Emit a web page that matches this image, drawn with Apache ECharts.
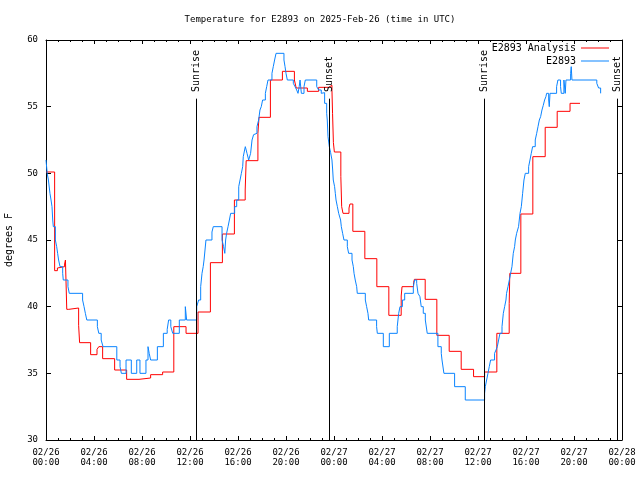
<!DOCTYPE html>
<html>
<head>
<meta charset="utf-8">
<script src="https://cdn.jsdelivr.net/npm/echarts@6/dist/echarts.min.js"></script>
<style>html,body{margin:0;padding:0;background:#fff}#c{width:640px;height:480px}</style>
</head>
<body>
<div id="c"></div>
<script>
// Hours since 02/26 00:00 UTC, and temperatures (deg F) — values hold until next point
const redHours = [0,0.72,0.95,1.05,1.55,1.62,1.73,1.9,2.72,2.8,3.72,4.25,4.4,4.72,5.72,6.72,7.75,8.72,9.72,10.65,11.67,12.67,13.7,14.7,15.7,16.6,16.68,17.66,17.75,18.7,19.7,20.7,20.85,21.78,22.72,23.55,23.83,23.88,23.95,24.03,24.57,24.64,24.75,25.25,25.33,25.57,26.57,27.57,28.57,29.6,29.67,30.63,30.7,31.6,32.57,33.6,34.6,35.63,36.55,37.57,38.6,38.65,39.57,40.57,41.6,42.6,43.67,44.5];
const redTemps = [50.1,42.7,42.9,43.0,43.2,43.5,39.8,39.9,38.6,37.3,36.4,36.8,37.0,36.1,35.25,34.55,34.65,34.9,35.1,38.5,38.0,39.6,43.3,45.45,48.0,48.75,50.95,53.0,54.2,57.0,57.65,57.0,56.4,56.15,56.45,56.6,56.2,54.5,52.3,51.6,49.75,47.5,47.0,47.4,47.7,45.65,43.6,41.5,39.35,40.8,41.5,41.8,42.05,40.55,37.85,36.65,35.3,34.75,35.1,38.0,40.25,42.5,46.95,51.25,53.45,54.65,55.25,55.25];

const blueHours = [0,0.1,0.2,0.33,0.42,0.5,0.56,0.61,0.78,0.89,0.97,1.05,1.17,1.39,1.44,1.83,1.94,3.05,3.17,3.28,3.4,4.28,4.4,4.6,4.75,5.9,6.17,6.28,6.67,7.11,7.56,7.83,8.33,8.5,8.6,8.72,9.28,9.78,10.1,10.22,10.4,10.56,11.11,11.61,11.72,12.56,12.72,12.89,13.0,13.1,13.17,13.25,13.33,13.83,13.94,14.67,14.8,14.9,14.97,15.05,15.17,15.28,15.39,15.72,15.89,16.06,16.17,16.28,16.39,16.44,16.55,16.61,16.75,16.89,17.05,17.17,17.3,17.44,17.58,17.72,17.83,17.94,18.05,18.28,18.39,18.5,18.83,18.94,19.05,19.17,19.83,19.92,20.0,20.11,20.61,20.75,20.89,21.0,21.1,21.17,21.28,21.5,21.61,22.56,22.72,22.94,23.1,23.22,23.39,23.44,23.5,23.61,23.72,23.83,23.89,23.94,24.05,24.11,24.17,24.28,24.39,24.55,24.61,24.72,24.83,25.11,25.22,25.5,25.61,25.67,25.77,25.89,25.94,26.61,26.72,26.83,26.89,27.55,27.61,28.11,28.61,29.27,29.39,29.5,29.7,29.89,30.61,30.72,30.89,31.0,31.16,31.27,31.44,31.61,31.77,32.66,32.94,33.0,33.16,34.05,34.94,36.55,36.61,36.72,36.83,36.94,37.05,37.38,37.5,37.61,37.72,37.83,38.0,38.11,38.22,38.33,38.38,38.5,38.61,38.72,38.83,38.94,39.05,39.11,39.22,39.38,39.5,39.61,39.72,39.83,39.94,40.22,40.33,40.44,40.55,40.77,40.89,41.0,41.11,41.22,41.33,41.44,41.55,41.66,41.72,41.89,41.94,42.0,42.55,42.66,42.88,42.94,43.16,43.27,43.33,43.72,43.77,43.83,45.9,46.05,46.22];
const blueTemps = [51,50,49.5,48.5,48,47.5,46.5,46,45,44.5,44,43.5,43,42.5,42,41.5,41,40.5,40,39.5,39,38.5,38,37.5,37,36,35.5,35,36,35,36,35,36,37,36.5,36,37,38,38.3,39,38.5,38,39,40,39,40,40.5,41.5,42.5,43,43.5,44.25,45,45.6,46,45,44.5,44,45,45.5,46,46.5,47,47.5,48,49,49.5,50,50.5,51.25,51.75,52,51.5,51,51.5,52.5,52.9,53,53.5,54,54.75,55,55.5,56,56.5,57,57.5,58,58.5,59,58.5,58,57.5,57,56.75,56.5,56.25,56,56.5,57,56,56.5,57,56.5,56.25,56,56.05,55.25,54.5,54,52.75,52,51.55,51,50.25,49.5,49,48.5,48,47.5,47,46.5,46,45.5,45,44.5,44,43.5,43,42.5,42,41.5,41,40.5,40,39.5,39,38.5,38,37,38,38.5,39.5,40,40.5,41,41.5,42,41.75,41,40.75,40,39.5,39,38,37,36.5,36,35,34,33,33.5,34,34.5,35,35.5,36,36.5,36.75,37,37.5,38,38.5,39.5,40,40.5,41,41.5,42,42.5,43,44,44.5,45,45.5,46,47,47.5,48.5,49.5,50,50.5,51,51.5,52,52.5,53,53.5,54,54.25,54.75,55.1,55.5,55.75,56,55.5,55,56,56.5,57,56.5,56,57,56,57,57.5,58,57,56.75,56.4,56];

const sunHours = [12.5, 23.62, 36.53, 47.64];
const sunLabels = ['Sunrise', 'Sunset', 'Sunrise', 'Sunset'];

const xTickLabels = ['02/26\n00:00','02/26\n04:00','02/26\n08:00','02/26\n12:00','02/26\n16:00','02/26\n20:00','02/27\n00:00','02/27\n04:00','02/27\n08:00','02/27\n12:00','02/27\n16:00','02/27\n20:00','02/28\n00:00'];
const yTicks = [30, 35, 40, 45, 50, 55, 60];

const FONT = 'DejaVu Sans Mono';
const zip = (a, b) => a.map((v, i) => [v, b[i]]);

const markData = [];
sunHours.forEach((t, i) => {
  markData.push([{ coord: [t, 30], lineStyle: { color: '#000', width: 1, type: 'solid' }, label: { show: false } },
                 { coord: [t, 55.6], lineStyle: { color: '#000', width: 1, type: 'solid' }, label: { show: false } }]);
  const lbl = { show: true, position: 'insideStart', distance: 0, formatter: sunLabels[i], color: '#000', opacity: 1, fontFamily: FONT, fontSize: 10 };
  const ls = { color: 'rgba(0,0,0,0)', width: 0, opacity: 1 };
  markData.push([{ coord: [t, 56.1], name: sunLabels[i], lineStyle: ls, label: lbl },
                 { coord: [t, 59.9], lineStyle: ls, label: lbl }]);
});

const axisCommon = {
  type: 'value', min: 0, max: 48, interval: 4,
  axisLine: { show: true, onZero: false, lineStyle: { color: '#000', width: 1 } },
  axisTick: { show: true, inside: true, length: 4, lineStyle: { color: '#000' } },
  minorTick: { show: true, splitNumber: 4, length: 2, lineStyle: { color: '#000' } },
  splitLine: { show: false }
};
const yCommon = {
  type: 'value', min: 30, max: 60, interval: 5,
  axisLine: { show: true, onZero: false, lineStyle: { color: '#000', width: 1 } },
  axisTick: { show: true, inside: true, length: 5, lineStyle: { color: '#000' } },
  splitLine: { show: false }
};

const legendText = { fontFamily: FONT, fontSize: 10, color: '#000' };

const chart = echarts.init(document.getElementById('c'), null, { renderer: 'canvas' });
chart.setOption({
  animation: false,
  backgroundColor: '#fff',
  title: { text: 'Temperature for E2893 on 2025-Feb-26 (time in UTC)', left: 'center', top: 10,
    textStyle: { fontFamily: FONT, fontSize: 9, fontWeight: 'normal', color: '#000' } },
  grid: { left: 46, right: 18, top: 40, bottom: 40, containLabel: false, outerBoundsMode: 'none' },
  legend: [
    { data: ['E2893 Analysis'], right: 31, top: 43, align: 'right', icon: 'rect', itemWidth: 28, itemHeight: 1, padding: 0,
      textStyle: legendText },
    { data: ['E2893'], right: 31, top: 56, align: 'right', icon: 'rect', itemWidth: 28, itemHeight: 1, padding: 0,
      textStyle: legendText }
  ],
  xAxis: [
    Object.assign({}, axisCommon, { position: 'bottom',
      axisLabel: { show: true, margin: 8, lineHeight: 10, color: '#000', fontFamily: FONT, fontSize: 9,
        formatter: v => xTickLabels[Math.round(v / 4)] } }),
    Object.assign({}, axisCommon, { position: 'top', axisLabel: { show: false } })
  ],
  yAxis: [
    Object.assign({}, yCommon, { position: 'left', name: 'degrees F', nameLocation: 'middle', nameGap: 32,
      nameTextStyle: { fontFamily: FONT, fontSize: 10, color: '#000' },
      axisLabel: { show: true, margin: 8, color: '#000', fontFamily: FONT, fontSize: 9,
        formatter: v => (yTicks.indexOf(v) >= 0 ? String(v) : '') } }),
    Object.assign({}, yCommon, { position: 'right', axisLabel: { show: false } })
  ],
  series: [
    { name: 'E2893 Analysis', type: 'line', step: 'end', xAxisIndex: 0, yAxisIndex: 0,
      data: zip(redHours, redTemps), showSymbol: false, symbol: 'none',
      lineStyle: { color: '#ff0000', width: 1 }, itemStyle: { color: '#ff0000' } },
    { name: 'E2893', type: 'line', step: 'end', xAxisIndex: 0, yAxisIndex: 0,
      data: zip(blueHours, blueTemps), showSymbol: false, symbol: 'none',
      lineStyle: { color: '#0a84ff', width: 1 }, itemStyle: { color: '#0a84ff' },
      markLine: { silent: true, symbol: ['none', 'none'], animation: false, data: markData } }
  ]
});
</script>
</body>
</html>
